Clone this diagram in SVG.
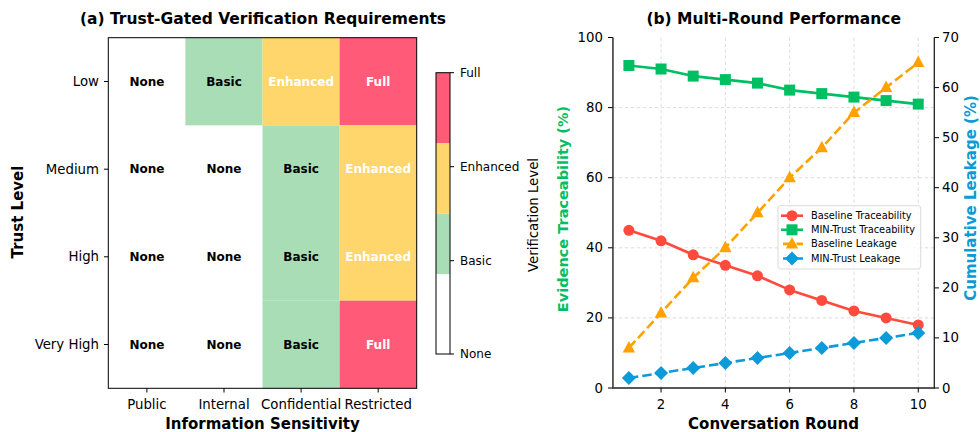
<svg xmlns="http://www.w3.org/2000/svg" width="980" height="432" viewBox="0 0 980 432">
<style>
text{font-family:"DejaVu Sans","Liberation Sans",sans-serif;fill:#000}
.title{font-size:15.5px;font-weight:bold;text-anchor:middle}
.tick{font-size:13.3px}
.cbt{font-size:12px}
.cell{font-size:12px;font-weight:bold;text-anchor:middle;dominant-baseline:central}
.axl{font-size:15px;font-weight:bold;text-anchor:middle}
.grid{stroke:#d9d9d9;stroke-width:0.9;stroke-dasharray:3.5,2.5;fill:none}
.tk{stroke:#000;stroke-width:1}
.leg{font-size:9.8px;dominant-baseline:central}
.gt{fill:#00BF63}
.bt{fill:#0A9BD8}
</style>
<defs>
<circle id="mc" r="5.5" fill="#FF4A3D"/>
<rect id="ms" x="-5.5" y="-5.5" width="11" height="11" fill="#00BF63"/>
<path id="mt" d="M0,-7 L6.2,4.5 L-6.2,4.5 Z" fill="#FFA200"/>
<path id="md" d="M0,-7 L7,0 L0,7 L-7,0 Z" fill="#0A9BD8"/>
</defs>

<!-- Panel (a) -->
<g id="panel-a">
<text class="title" x="263" y="24">(a) Trust-Gated Verification Requirements</text>
<g id="heatmap">
<rect x="108.3" y="37.7" width="308.4" height="350.6" fill="#fff"/>
<rect x="185.4" y="37.7" width="77.1" height="87.65" fill="#A8DDB5"/>
<rect x="262.5" y="37.7" width="77.1" height="87.65" fill="#FFD66B"/>
<rect x="339.6" y="37.7" width="77.1" height="87.65" fill="#FF5A78"/>
<rect x="262.5" y="125.35" width="77.1" height="87.65" fill="#A8DDB5"/>
<rect x="339.6" y="125.35" width="77.1" height="87.65" fill="#FFD66B"/>
<rect x="262.5" y="213" width="77.1" height="87.65" fill="#A8DDB5"/>
<rect x="339.6" y="213" width="77.1" height="87.65" fill="#FFD66B"/>
<rect x="262.5" y="300.65" width="77.1" height="87.65" fill="#A8DDB5"/>
<rect x="339.6" y="300.65" width="77.1" height="87.65" fill="#FF5A78"/>
<rect x="108.3" y="37.7" width="308.4" height="350.6" fill="none" stroke="#000" stroke-width="1"/>
</g>
<g id="cell-labels">
<text class="cell" x="146.9" y="81.5">None</text>
<text class="cell" x="224" y="81.5">Basic</text>
<text class="cell" x="301.1" y="81.5" style="fill:#fff">Enhanced</text>
<text class="cell" x="378.2" y="81.5" style="fill:#fff">Full</text>
<text class="cell" x="146.9" y="169.2">None</text>
<text class="cell" x="224" y="169.2">None</text>
<text class="cell" x="301.1" y="169.2">Basic</text>
<text class="cell" x="378.2" y="169.2" style="fill:#fff">Enhanced</text>
<text class="cell" x="146.9" y="256.8">None</text>
<text class="cell" x="224" y="256.8">None</text>
<text class="cell" x="301.1" y="256.8">Basic</text>
<text class="cell" x="378.2" y="256.8" style="fill:#fff">Enhanced</text>
<text class="cell" x="146.9" y="344.5">None</text>
<text class="cell" x="224" y="344.5">None</text>
<text class="cell" x="301.1" y="344.5">Basic</text>
<text class="cell" x="378.2" y="344.5" style="fill:#fff">Full</text>
</g>
<g id="a-axes">
<path class="tk" d="M104,81.5H108.3M104,169.2H108.3M104,256.8H108.3M104,344.5H108.3M146.9,388.3V392.5M224,388.3V392.5M301.1,388.3V392.5M378.2,388.3V392.5"/>
<g class="tick" text-anchor="end" dominant-baseline="central">
<text x="99" y="81.5">Low</text>
<text x="99" y="169.2">Medium</text>
<text x="99" y="256.8">High</text>
<text x="99" y="344.5">Very High</text>
</g>
<g class="tick" text-anchor="middle">
<text x="146.9" y="409">Public</text>
<text x="224" y="409">Internal</text>
<text x="301.1" y="409">Confidential</text>
<text x="378.2" y="409">Restricted</text>
</g>
<text class="axl" x="262.5" y="428.5">Information Sensitivity</text>
<text class="axl" transform="translate(23,212) rotate(-90)">Trust Level</text>
</g>
<g id="colorbar">
<rect x="436" y="72.7" width="14" height="70.3" fill="#FF5A78"/>
<rect x="436" y="143" width="14" height="70.7" fill="#FFD66B"/>
<rect x="436" y="213.7" width="14" height="60.6" fill="#A8DDB5"/>
<rect x="436" y="274.3" width="14" height="79.7" fill="#fff"/>
<rect x="436" y="72.7" width="14" height="281.3" fill="none" stroke="#000" stroke-width="1"/>
<path class="tk" d="M450,72.7H454M450,166.7H454M450,260.7H454M450,354H454"/>
<g class="cbt" dominant-baseline="central">
<text x="460" y="72.7">Full</text>
<text x="460" y="166.7">Enhanced</text>
<text x="460" y="260.7">Basic</text>
<text x="460" y="354">None</text>
</g>
<text class="tick" text-anchor="middle" transform="translate(537.5,215) rotate(-90)">Verification Level</text>
</g>
</g>

<!-- Panel (b) -->
<g id="panel-b">
<text class="title" x="773.7" y="24">(b) Multi-Round Performance</text>
<g id="grid">
<path class="grid" d="M661.05,37.5V388M725.35,37.5V388M789.65,37.5V388M853.95,37.5V388M918.25,37.5V388"/>
<path class="grid" d="M612.8,317.9H934.3M612.8,247.8H934.3M612.8,177.7H934.3M612.8,107.6H934.3"/>
</g>
<g id="connectors">
<polyline fill="none" stroke="#FF4A3D" stroke-width="2.6" stroke-linejoin="round" points="628.9,230.3 661.05,240.8 693.2,254.8 725.35,265.3 757.5,275.8 789.65,289.9 821.8,300.4 853.95,310.9 886.1,317.9 918.25,324.9"/>
<polyline fill="none" stroke="#00BF63" stroke-width="2.6" stroke-linejoin="round" points="628.9,65.5 661.05,69 693.2,76.1 725.35,79.6 757.5,83.1 789.65,90.1 821.8,93.6 853.95,97.1 886.1,100.6 918.25,104.1"/>
<polyline fill="none" stroke="#FFA200" stroke-width="2.6" stroke-dasharray="9.5,4" points="628.9,348 661.05,312.9 693.2,277.8 725.35,247.8 757.5,212.8 789.65,177.7 821.8,147.7 853.95,112.6 886.1,87.6 918.25,62.5"/>
<polyline fill="none" stroke="#0A9BD8" stroke-width="2.6" stroke-dasharray="9.5,4" points="628.9,378 661.05,373 693.2,368 725.35,363 757.5,358 789.65,353 821.8,348 853.95,342.9 886.1,337.9 918.25,332.9"/>
</g>
<g id="markers">
<use href="#mc" x="628.9" y="230.3"/><use href="#mc" x="661.05" y="240.8"/><use href="#mc" x="693.2" y="254.8"/><use href="#mc" x="725.35" y="265.3"/><use href="#mc" x="757.5" y="275.8"/><use href="#mc" x="789.65" y="289.9"/><use href="#mc" x="821.8" y="300.4"/><use href="#mc" x="853.95" y="310.9"/><use href="#mc" x="886.1" y="317.9"/><use href="#mc" x="918.25" y="324.9"/>
<use href="#ms" x="628.9" y="65.5"/><use href="#ms" x="661.05" y="69"/><use href="#ms" x="693.2" y="76.1"/><use href="#ms" x="725.35" y="79.6"/><use href="#ms" x="757.5" y="83.1"/><use href="#ms" x="789.65" y="90.1"/><use href="#ms" x="821.8" y="93.6"/><use href="#ms" x="853.95" y="97.1"/><use href="#ms" x="886.1" y="100.6"/><use href="#ms" x="918.25" y="104.1"/>
<use href="#mt" x="628.9" y="348"/><use href="#mt" x="661.05" y="312.9"/><use href="#mt" x="693.2" y="277.8"/><use href="#mt" x="725.35" y="247.8"/><use href="#mt" x="757.5" y="212.8"/><use href="#mt" x="789.65" y="177.7"/><use href="#mt" x="821.8" y="147.7"/><use href="#mt" x="853.95" y="112.6"/><use href="#mt" x="886.1" y="87.6"/><use href="#mt" x="918.25" y="62.5"/>
<use href="#md" x="628.9" y="378"/><use href="#md" x="661.05" y="373"/><use href="#md" x="693.2" y="368"/><use href="#md" x="725.35" y="363"/><use href="#md" x="757.5" y="358"/><use href="#md" x="789.65" y="353"/><use href="#md" x="821.8" y="348"/><use href="#md" x="853.95" y="342.9"/><use href="#md" x="886.1" y="337.9"/><use href="#md" x="918.25" y="332.9"/>
</g>
<g id="b-axes">
<path d="M612.8,37.5V388H934.3V37.5" fill="none" stroke="#222" stroke-width="1.3"/>
<path d="M612.8,37.5V388" fill="none" stroke="#555" stroke-width="1.6"/>
<path class="tk" d="M608,388H612.8M608,317.9H612.8M608,247.8H612.8M608,177.7H612.8M608,107.6H612.8M608,37.5H612.8"/>
<path class="tk" d="M934.3,388H939M934.3,337.9H939M934.3,287.9H939M934.3,237.8H939M934.3,187.7H939M934.3,137.7H939M934.3,87.6H939M934.3,37.5H939"/>
<path class="tk" d="M661.05,388V392.5M725.35,388V392.5M789.65,388V392.5M853.95,388V392.5M918.25,388V392.5"/>
<g class="tick gt" text-anchor="end" dominant-baseline="central">
<text x="603" y="388">0</text>
<text x="603" y="317.9">20</text>
<text x="603" y="247.8">40</text>
<text x="603" y="177.7">60</text>
<text x="603" y="107.6">80</text>
<text x="603" y="37.5">100</text>
</g>
<g class="tick bt" dominant-baseline="central">
<text x="942" y="388">0</text>
<text x="942" y="337.9">10</text>
<text x="942" y="287.9">20</text>
<text x="942" y="237.8">30</text>
<text x="942" y="187.7">40</text>
<text x="942" y="137.7">50</text>
<text x="942" y="87.6">60</text>
<text x="942" y="37.5">70</text>
</g>
<g class="tick" text-anchor="middle">
<text x="661.05" y="409">2</text>
<text x="725.35" y="409">4</text>
<text x="789.65" y="409">6</text>
<text x="853.95" y="409">8</text>
<text x="918.25" y="409">10</text>
</g>
<text class="axl" x="773.5" y="428.5">Conversation Round</text>
<text class="axl gt" style="font-size:14.5px" transform="translate(568,209) rotate(-90)">Evidence Traceability (%)</text>
<text class="axl bt" style="font-size:15px" transform="translate(975.5,198) rotate(-90)">Cumulative Leakage (%)</text>
</g>
<g id="legend">
<rect x="778" y="205.7" width="142.7" height="63.3" rx="2.5" fill="#fff" fill-opacity="0.8" stroke="#d0d0d0" stroke-width="0.8"/>
<path d="M781,215.7H803" stroke="#FF4A3D" stroke-width="2.6"/><use href="#mc" x="792" y="215.7"/>
<path d="M781,229.8H803" stroke="#00BF63" stroke-width="2.6"/><use href="#ms" x="792" y="229.8"/>
<path d="M781,243.9H803" stroke="#FFA200" stroke-width="2.6" stroke-dasharray="9.5,4" stroke-dashoffset="-2"/><use href="#mt" x="792" y="243.9"/>
<path d="M781,258.5H803" stroke="#0A9BD8" stroke-width="2.6" stroke-dasharray="9.5,4" stroke-dashoffset="-2"/><use href="#md" x="792" y="258.5"/>
<text class="leg" x="811" y="215.7">Baseline Traceability</text>
<text class="leg" x="811" y="229.8">MIN-Trust Traceability</text>
<text class="leg" x="811" y="243.9">Baseline Leakage</text>
<text class="leg" x="811" y="258.5">MIN-Trust Leakage</text>
</g>
</g>
</svg>
